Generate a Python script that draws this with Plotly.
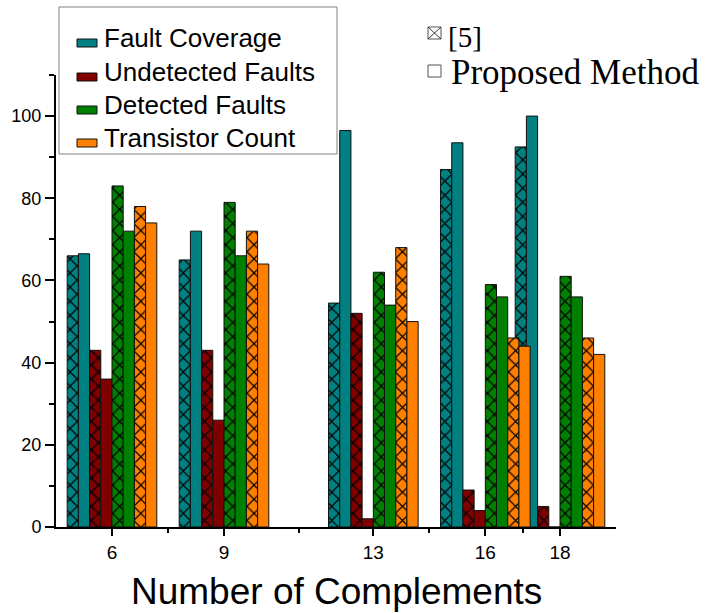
import plotly.graph_objects as go

# ---- data ----
categories = [6, 9, 13, 16, 18]
fc_ref = [66, 65, 54.5, 87, 92.5]
fc_prop = [66.5, 72, 96.5, 93.5, 100]
uf_ref = [43, 43, 52, 9, 5]
uf_prop = [36, 26, 2, 4, 0]
df_ref = [83, 79, 62, 59, 61]
df_prop = [72, 66, 54, 56, 56]
tc_ref = [78, 72, 68, 46, 46]
tc_prop = [74, 64, 50, 44, 42]

metric_names = ["Fault Coverage", "Undetected Faults", "Detected Faults", "Transistor Count"]
method_names = ["[5]", "Proposed Method"]
colors = ["#008080", "#800000", "#008000", "#FF8000"]
series = [(fc_ref, fc_prop), (uf_ref, uf_prop), (df_ref, df_prop), (tc_ref, tc_prop)]

y_ticks = [0, 20, 40, 60, 80, 100]
y_minor = [10, 30, 50, 70, 90, 110]
x_minor = [7.5, 11, 14.5, 17]

# ---- layout geometry (pixels) ----
W, H = 728, 613
L, R, T, B = 56, 112, 75, 86
PW, PH = W - L - R, H - T - B


def px(x):
    return (x - L) / PW


def py(y):
    return (H - B - y) / PH


BW = 0.3
fig = go.Figure()
k = 0
for mi, (ref, prop) in enumerate(series):
    c = colors[mi]
    for j, vals in enumerate((ref, prop)):
        marker = dict(color=c, line=dict(color="#111111", width=1))
        if j == 0:
            marker["pattern"] = dict(shape="x", fgcolor="#000000", bgcolor=c,
                                     size=10, solidity=0.22, fillmode="replace")
        fig.add_trace(go.Bar(
            x=categories, y=vals, width=BW, offset=-4 * BW + k * BW,
            marker=marker, name=f"{metric_names[mi]} {method_names[j]}",
            showlegend=False,
        ))
        k += 1

shapes = []
annotations = []
# legend box 1
shapes.append(dict(type="rect", xref="paper", yref="paper",
                   x0=px(59), x1=px(337), y0=py(154), y1=py(7),
                   line=dict(color="#808080", width=1), fillcolor="white", layer="above"))
baselines = [47, 81, 114, 147]
for i, name in enumerate(metric_names):
    b = baselines[i]
    shapes.append(dict(type="rect", xref="paper", yref="paper",
                       x0=px(77), x1=px(97), y0=py(b), y1=py(b - 8),
                       line=dict(color="#111111", width=1), fillcolor=colors[i], layer="above"))
    annotations.append(dict(text=name, xref="paper", yref="paper",
                            x=px(102), y=py(b - 9), xanchor="left", yanchor="middle",
                            showarrow=False,
                            font=dict(family="Arial, Liberation Sans", size=26, color="black")))

# legend 2 (method)
shapes.append(dict(type="rect", xref="paper", yref="paper",
                   x0=px(428), x1=px(441), y0=py(39), y1=py(27),
                   line=dict(color="#555555", width=1), fillcolor="white", layer="above"))
shapes.append(dict(type="line", xref="paper", yref="paper",
                   x0=px(428), x1=px(441), y0=py(39), y1=py(27),
                   line=dict(color="#333333", width=1), layer="above"))
shapes.append(dict(type="line", xref="paper", yref="paper",
                   x0=px(428), x1=px(441), y0=py(27), y1=py(39),
                   line=dict(color="#333333", width=1), layer="above"))
shapes.append(dict(type="rect", xref="paper", yref="paper",
                   x0=px(428), x1=px(441), y0=py(77), y1=py(65),
                   line=dict(color="#555555", width=1), fillcolor="white", layer="above"))
annotations.append(dict(text=method_names[0], xref="paper", yref="paper",
                        x=px(446), y=py(37), xanchor="left", yanchor="middle", showarrow=False,
                        font=dict(family="Times New Roman, Liberation Serif", size=29, color="black")))
annotations.append(dict(text=method_names[1], xref="paper", yref="paper",
                        x=px(449), y=py(72), xanchor="left", yanchor="middle", showarrow=False,
                        font=dict(family="Times New Roman, Liberation Serif", size=35, color="black")))
# x axis title
annotations.append(dict(text="Number of Complements", xref="paper", yref="paper",
                        x=px(336.5), y=py(591), xanchor="center", yanchor="middle", showarrow=False,
                        font=dict(family="Arial, Liberation Sans", size=37, color="black")))

fig.update_layout(
    width=W, height=H,
    margin=dict(l=L, r=R, t=T, b=B, pad=0),
    barmode="overlay",
    plot_bgcolor="white", paper_bgcolor="white",
    shapes=shapes, annotations=annotations,
    font=dict(family="Arial, Liberation Sans", color="black"),
    xaxis=dict(range=[4.5, 19.5], tickmode="array", tickvals=categories,
               ticktext=[str(c) for c in categories],
               showline=True, linecolor="black", linewidth=2, mirror=False,
               ticks="outside", ticklen=7, tickwidth=2, tickcolor="black",
               tickfont=dict(size=19, family="Arial, Liberation Sans"),
               showgrid=False, zeroline=False,
               minor=dict(tickvals=x_minor, ticks="outside", ticklen=4, tickwidth=2,
                          tickcolor="black", showgrid=False)),
    yaxis=dict(range=[0, 110], tickmode="array", tickvals=y_ticks,
               showline=True, linecolor="black", linewidth=2,
               ticks="outside", ticklen=9, tickwidth=2, tickcolor="black",
               tickfont=dict(size=18, family="Arial, Liberation Sans"),
               showgrid=False, zeroline=False,
               minor=dict(tickvals=y_minor, ticks="outside", ticklen=5, tickwidth=2,
                          tickcolor="black", showgrid=False)),
)

fig.write_html("out.html", config={"displayModeBar": False},
               post_script="document.body.style.margin='0';document.body.style.padding='0';")
